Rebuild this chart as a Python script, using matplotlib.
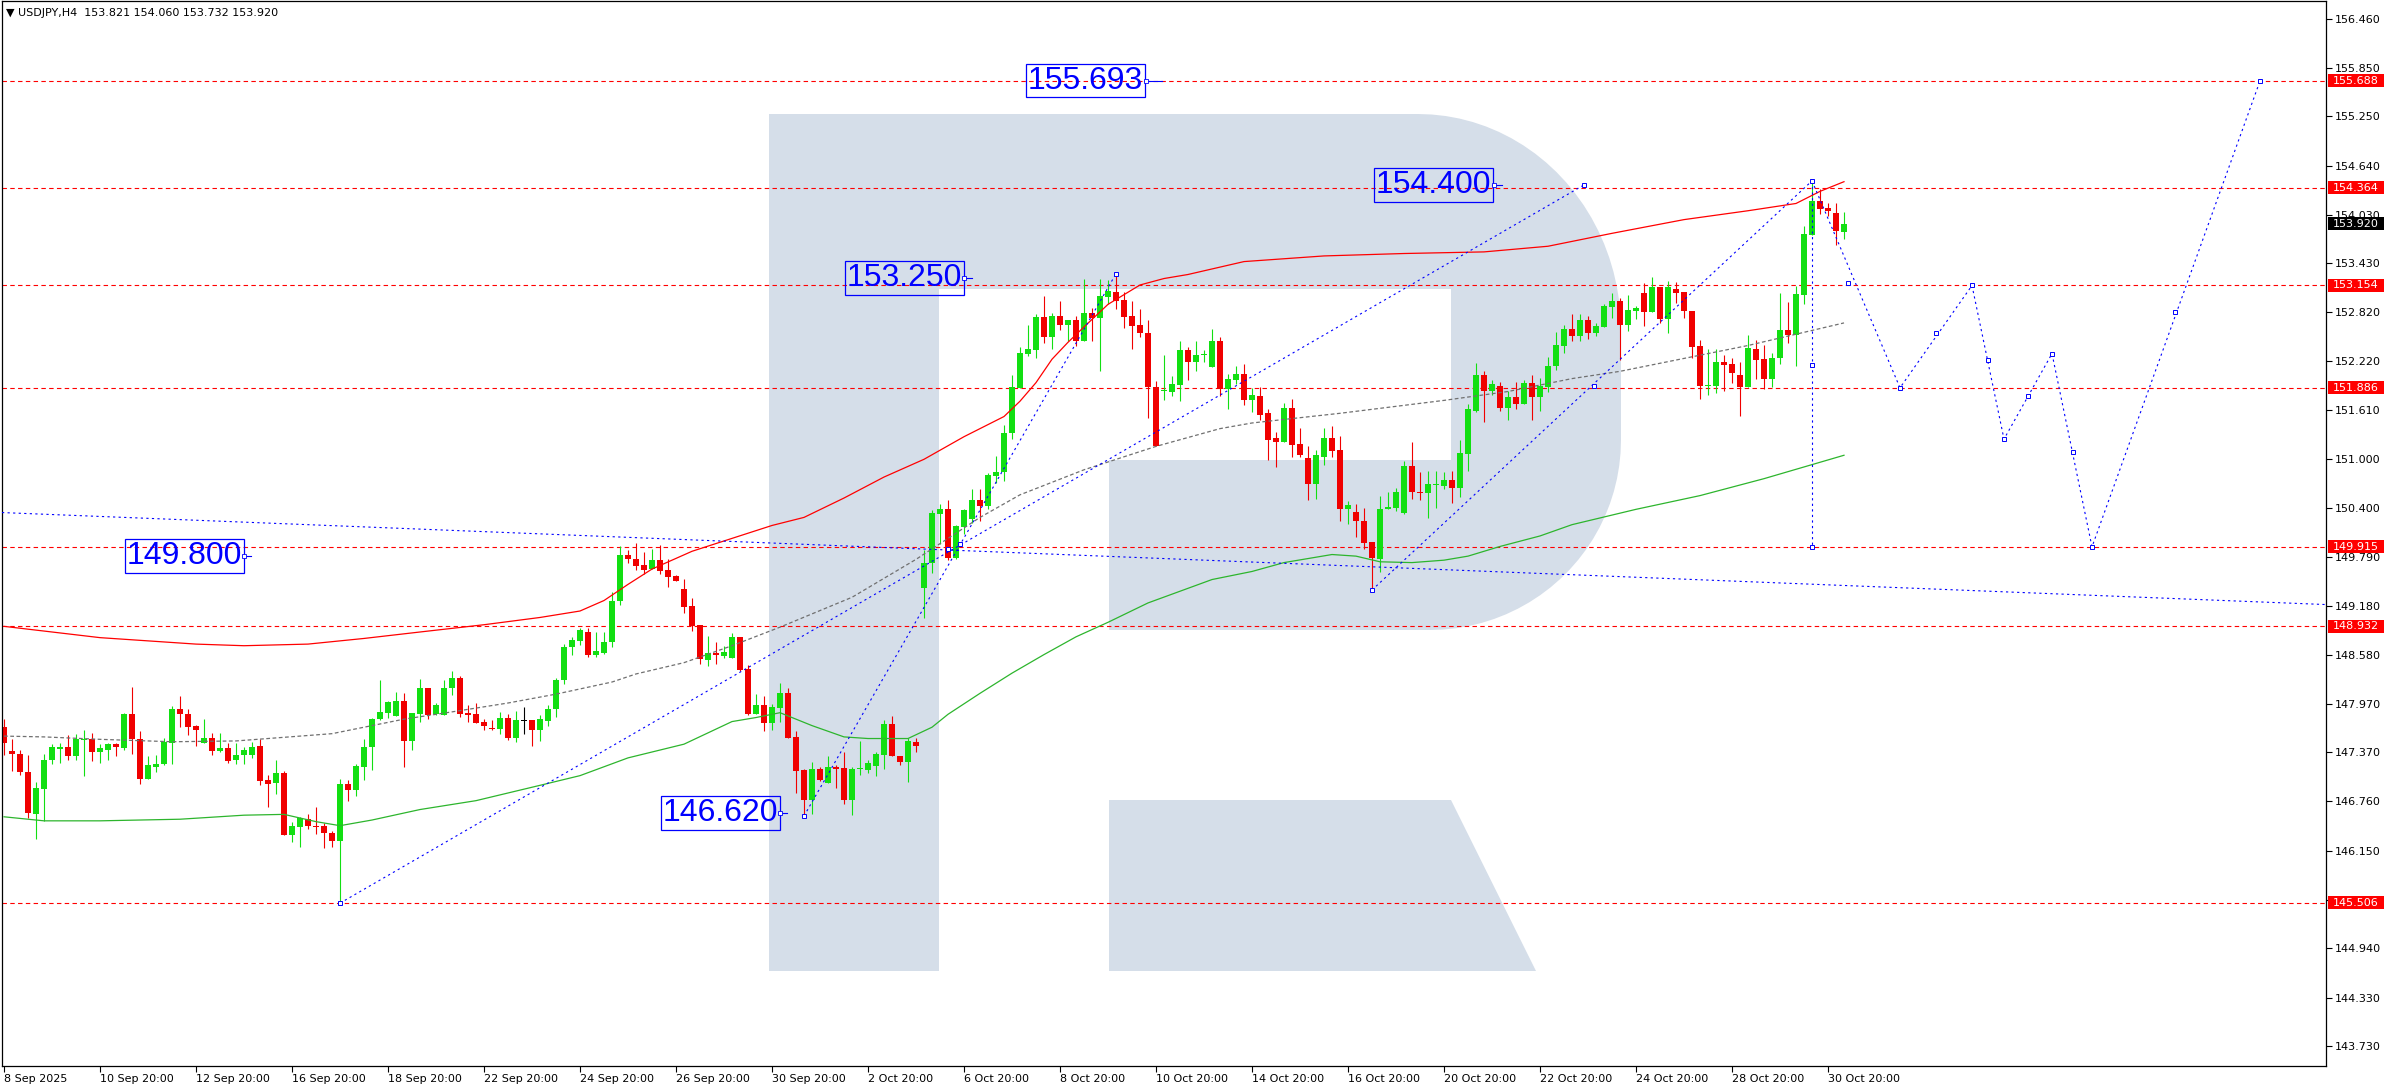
import numpy as np
import matplotlib
matplotlib.use("Agg")
import matplotlib.pyplot as plt
from matplotlib.patches import Polygon, Rectangle
from matplotlib.transforms import blended_transform_factory

plt.rcParams['font.family'] = ['DejaVu Sans']

# USDJPY H4 candles, bar 0 is the first bar on the left
opens = [
    147.68, 147.39, 147.35, 147.13, 146.61, 146.92, 147.27, 147.41, 147.43, 147.32,
    147.52, 147.54, 147.37, 147.40, 147.47, 147.42, 147.85, 147.53, 147.04, 147.19,
    147.22, 147.49, 147.90, 147.85, 147.69, 147.49, 147.55, 147.39, 147.42, 147.27,
    147.33, 147.33, 147.45, 147.02, 146.99, 147.11, 146.35, 146.44, 146.54, 146.46,
    146.45, 146.37, 146.27, 146.98, 146.90, 147.19, 147.43, 147.78, 147.86, 147.82,
    148.01, 147.51, 147.85, 148.16, 147.85, 147.83, 148.16, 148.29, 147.86, 147.85,
    147.75, 147.67, 147.66, 147.80, 147.55, 147.76, 147.77, 147.64, 147.76, 147.90,
    148.26, 148.67, 148.75, 148.86, 148.57, 148.60, 148.73, 149.25, 149.81, 149.76,
    149.69, 149.64, 149.75, 149.63, 149.55, 149.39, 149.18, 148.95, 148.51, 148.60,
    148.56, 148.54, 148.80, 148.40, 147.84, 147.95, 147.73, 147.92, 148.10, 147.56,
    147.15, 146.78, 147.16, 146.99, 147.19, 147.17, 146.78, 147.16, 147.15, 147.20,
    147.34, 147.72, 147.32, 147.25, 147.50, 149.41, 149.71, 150.32, 150.38, 149.78,
    150.16, 150.26, 150.50, 150.42, 150.79, 150.84, 151.32, 151.88, 152.31, 152.36,
    152.76, 152.51, 152.77, 152.66, 152.72, 152.47, 152.81, 152.75, 153.01, 153.07,
    152.97, 152.77, 152.66, 152.57, 151.90, 151.85, 151.84, 151.92, 152.35, 152.21,
    152.29, 152.14, 152.47, 151.87, 151.98, 152.06, 151.74, 151.79, 151.57, 151.26,
    151.22, 151.64, 151.19, 151.02, 150.70, 151.03, 151.26, 151.11, 150.39, 150.35,
    150.24, 149.97, 149.77, 150.38, 150.40, 150.34, 150.92, 150.60, 150.58, 150.68,
    150.67, 150.74, 150.65, 151.07, 151.60, 152.04, 151.85, 151.91, 151.63, 151.77,
    151.69, 151.94, 151.77, 151.90, 152.15, 152.41, 152.62, 152.53, 152.73, 152.57,
    152.64, 152.89, 152.96, 152.67, 152.84, 153.06, 152.83, 153.14, 152.74, 153.11,
    153.07, 152.84, 152.41, 151.91, 151.91, 152.20, 152.18, 152.05, 151.89, 152.37,
    152.24, 151.99, 152.25, 152.60, 152.54, 153.04, 153.78, 154.20, 154.12, 154.05,
    153.821,
]
highs = [
    147.78, 147.53, 147.40, 147.34, 147.00, 147.35, 147.47, 147.48, 147.58, 147.59,
    147.65, 147.61, 147.47, 147.48, 147.48, 147.86, 148.18, 147.63, 147.32, 147.34,
    147.55, 147.94, 148.07, 147.90, 147.71, 147.78, 147.61, 147.61, 147.48, 147.48,
    147.43, 147.50, 147.54, 147.09, 147.27, 147.14, 146.51, 146.57, 146.61, 146.69,
    146.49, 146.40, 147.04, 147.03, 147.23, 147.54, 147.80, 148.27, 148.01, 148.12,
    148.11, 147.86, 148.28, 148.16, 147.98, 148.27, 148.38, 148.31, 147.95, 147.98,
    147.78, 147.77, 147.87, 147.85, 147.88, 147.93, 147.77, 147.83, 147.96, 148.29,
    148.71, 148.80, 148.91, 148.91, 148.86, 148.86, 149.36, 149.93, 149.88, 149.96,
    149.85, 149.89, 149.94, 149.76, 149.57, 149.52, 149.28, 148.95, 148.81, 148.74,
    148.69, 148.85, 148.80, 148.45, 148.09, 148.07, 147.97, 148.23, 148.17, 147.63,
    147.16, 147.25, 147.19, 147.32, 147.21, 147.37, 147.19, 147.51, 147.27, 147.37,
    147.77, 147.82, 147.32, 147.55, 147.55, 149.87, 150.37, 150.44, 150.49, 150.19,
    150.39, 150.63, 150.63, 150.83, 151.04, 151.42, 152.05, 152.39, 152.66, 152.80,
    153.02, 152.81, 152.96, 152.73, 152.78, 153.23, 152.87, 153.24, 153.22, 153.30,
    153.07, 152.96, 152.86, 152.72, 151.97, 152.29, 152.03, 152.46, 152.39, 152.46,
    152.36, 152.62, 152.51, 152.06, 152.15, 152.18, 151.88, 151.89, 151.62, 151.34,
    151.70, 151.75, 151.39, 151.16, 151.12, 151.39, 151.41, 151.29, 150.48, 150.44,
    150.40, 149.98, 150.55, 150.60, 150.64, 150.98, 151.21, 150.84, 150.86, 150.86,
    150.84, 150.86, 151.24, 151.69, 152.19, 152.10, 151.98, 151.96, 151.85, 151.96,
    151.98, 152.05, 152.01, 152.27, 152.58, 152.66, 152.80, 152.80, 152.78, 152.69,
    152.92, 153.06, 153.00, 153.03, 152.90, 153.19, 153.26, 153.14, 153.21, 153.20,
    153.07, 152.84, 152.48, 152.37, 152.37, 152.29, 152.26, 152.20, 152.54, 152.48,
    152.42, 152.32, 153.06, 152.95, 153.15, 153.89, 154.46, 154.35, 154.18, 154.18,
    154.060,
]
lows = [
    147.33, 147.14, 147.09, 146.55, 146.30, 146.52, 147.23, 147.24, 147.27, 147.27,
    147.07, 147.26, 147.24, 147.28, 147.32, 147.40, 147.35, 146.98, 147.04, 147.12,
    147.21, 147.23, 147.68, 147.58, 147.45, 147.49, 147.33, 147.37, 147.24, 147.22,
    147.23, 147.30, 146.96, 146.69, 146.85, 146.34, 146.26, 146.20, 146.42, 146.36,
    146.18, 146.20, 145.50, 146.76, 146.83, 147.02, 147.15, 147.77, 147.80, 147.82,
    147.19, 147.40, 147.75, 147.78, 147.83, 147.83, 148.08, 147.81, 147.74, 147.73,
    147.65, 147.64, 147.59, 147.52, 147.50, 147.60, 147.45, 147.51, 147.70, 147.81,
    148.21, 148.58, 148.70, 148.55, 148.55, 148.59, 148.68, 149.20, 149.71, 149.63,
    149.58, 149.64, 149.58, 149.42, 149.49, 149.09, 148.87, 148.46, 148.44, 148.46,
    148.54, 148.54, 148.38, 147.83, 147.84, 147.63, 147.64, 147.74, 147.55, 146.86,
    146.55, 146.60, 147.01, 146.99, 146.93, 146.73, 146.59, 147.09, 147.11, 147.07,
    147.16, 147.32, 147.21, 147.00, 147.37, 149.03, 149.59, 149.95, 149.75, 149.76,
    150.08, 150.21, 150.24, 150.39, 150.71, 150.73, 151.25, 151.88, 152.28, 152.25,
    152.44, 152.37, 152.60, 152.46, 152.41, 152.47, 152.47, 152.10, 152.92, 152.86,
    152.63, 152.37, 152.52, 151.51, 151.16, 151.74, 151.79, 151.72, 151.98, 152.10,
    152.21, 152.14, 151.79, 151.62, 151.93, 151.67, 151.59, 151.49, 150.99, 150.90,
    151.22, 151.03, 151.03, 150.50, 150.51, 150.93, 151.03, 150.23, 150.20, 150.04,
    149.89, 149.40, 149.60, 150.38, 150.36, 150.32, 150.51, 150.49, 150.27, 150.40,
    150.63, 150.46, 150.53, 150.86, 151.59, 151.46, 151.80, 151.60, 151.49, 151.62,
    151.68, 151.49, 151.60, 151.83, 152.11, 152.32, 152.46, 152.47, 152.49, 152.53,
    152.64, 152.75, 152.23, 152.59, 152.74, 152.65, 152.82, 152.69, 152.57, 152.94,
    152.75, 152.26, 151.75, 151.80, 151.82, 151.85, 151.94, 151.54, 151.89, 152.00,
    151.87, 151.89, 152.18, 152.44, 152.15, 152.93, 153.78, 154.04, 154.02, 153.66,
    153.732,
]
closes = [
    147.49, 147.35, 147.12, 146.62, 146.93, 147.28, 147.43, 147.43, 147.32, 147.53,
    147.54, 147.37, 147.42, 147.47, 147.43, 147.85, 147.53, 147.04, 147.21, 147.23,
    147.50, 147.90, 147.84, 147.68, 147.65, 147.55, 147.39, 147.42, 147.26, 147.34,
    147.40, 147.44, 147.01, 146.98, 147.11, 146.35, 146.45, 146.55, 146.45, 146.44,
    146.37, 146.27, 146.98, 146.90, 147.20, 147.44, 147.78, 147.87, 147.99, 148.01,
    147.51, 147.86, 148.16, 147.83, 147.96, 148.17, 148.29, 147.85, 147.83, 147.73,
    147.69, 147.66, 147.80, 147.55, 147.77, 147.76, 147.65, 147.78, 147.91, 148.27,
    148.68, 148.76, 148.88, 148.57, 148.62, 148.74, 149.25, 149.81, 149.76, 149.68,
    149.63, 149.75, 149.62, 149.54, 149.49, 149.17, 148.93, 148.52, 148.60, 148.57,
    148.61, 148.80, 148.39, 147.84, 147.95, 147.73, 147.93, 148.10, 147.55, 147.14,
    146.78, 147.16, 147.02, 147.19, 147.16, 146.78, 147.16, 147.17, 147.24, 147.35,
    147.72, 147.32, 147.25, 147.51, 147.45, 149.72, 150.33, 150.38, 149.78, 150.17,
    150.37, 150.50, 150.42, 150.80, 150.84, 151.33, 151.89, 152.32, 152.37, 152.76,
    152.51, 152.77, 152.66, 152.72, 152.47, 152.81, 152.75, 153.02, 153.08, 152.96,
    152.76, 152.65, 152.56, 151.89, 151.16, 151.86, 151.93, 152.35, 152.21, 152.29,
    152.31, 152.47, 151.87, 151.99, 152.06, 151.74, 151.80, 151.55, 151.24, 151.22,
    151.64, 151.18, 151.05, 150.70, 151.05, 151.26, 151.10, 150.39, 150.43, 150.23,
    149.96, 149.78, 150.39, 150.41, 150.59, 150.92, 150.60, 150.58, 150.69, 150.69,
    150.74, 150.65, 151.08, 151.62, 152.04, 151.85, 151.93, 151.63, 151.77, 151.69,
    151.94, 151.77, 151.91, 152.16, 152.42, 152.62, 152.53, 152.73, 152.57, 152.65,
    152.90, 152.96, 152.67, 152.85, 152.88, 152.83, 153.14, 152.74, 153.13, 153.06,
    152.84, 152.39, 151.91, 151.92, 152.21, 152.17, 152.07, 151.89, 152.38, 152.23,
    151.99, 152.26, 152.60, 152.54, 153.05, 153.79, 154.20, 154.10, 154.08, 153.83,
    153.920,
]

# moving averages (bar, price)
ma_red_bars = [0, 12, 24, 30, 38, 45, 52, 60, 67, 72, 75, 78, 81, 86, 91, 96, 100,
               105, 110, 115, 120, 125, 127, 129, 131, 133, 135, 138, 142, 145, 148,
               155, 165, 175, 185, 193, 201, 210, 218, 224, 227, 230]
ma_red_vals = [148.93, 148.79, 148.71, 148.69, 148.71, 148.78, 148.86, 148.95, 149.04,
               149.12, 149.25, 149.45, 149.64, 149.86, 150.02, 150.18, 150.28, 150.52,
               150.78, 151.00, 151.28, 151.53, 151.72, 151.95, 152.24, 152.45, 152.64,
               152.92, 153.16, 153.24, 153.29, 153.45, 153.52, 153.55, 153.57, 153.64,
               153.80, 153.97, 154.08, 154.17, 154.32, 154.44]

ma_green_bars = [0, 5, 12, 22, 30, 35, 39, 42, 46, 52, 59, 67, 72, 78, 85, 91, 94,
                 97, 101, 105, 108, 113, 116, 118, 122, 126, 130, 134, 138, 143, 151,
                 156, 160, 166, 169, 172, 176, 180, 183, 187, 192, 196, 204, 212, 220, 230]
ma_green_vals = [146.57, 146.52, 146.52, 146.54, 146.59, 146.60, 146.51, 146.46, 146.53,
                 146.66, 146.77, 146.96, 147.08, 147.30, 147.47, 147.75, 147.80, 147.86,
                 147.70, 147.56, 147.54, 147.54, 147.68, 147.84, 148.10, 148.35, 148.58,
                 148.80, 148.98, 149.22, 149.51, 149.61, 149.72, 149.82, 149.80, 149.73,
                 149.72, 149.75, 149.80, 149.92, 150.05, 150.19, 150.38, 150.55, 150.76,
                 151.05]

ma_gray_bars = [0, 5, 12, 21, 29, 37, 41, 44, 50, 56, 63, 69, 76, 79, 85, 91, 97, 106,
                114, 118, 122, 127, 135, 144, 152, 156, 167, 180, 188, 196, 202, 210,
                218, 227, 230]
ma_gray_vals = [147.57, 147.56, 147.53, 147.50, 147.51, 147.57, 147.60, 147.66, 147.78,
                147.87, 147.98, 148.09, 148.24, 148.34, 148.48, 148.69, 148.92, 149.29,
                149.76, 150.02, 150.28, 150.56, 150.87, 151.16, 151.38, 151.45, 151.57,
                151.73, 151.84, 152.00, 152.09, 152.25, 152.41, 152.62, 152.69]

# horizontal levels (red dashed) and the current price
level_prices = [155.688, 154.364, 153.154, 151.886, 149.915, 148.932, 145.506]
last_price = 153.920

# blue dotted trend lines: (bar0, price0, bar1, price1)
trend_lines = [
    (42, 145.50, 197.5, 154.40),
    (100, 146.58, 139, 153.30),
    (171, 149.38, 226, 154.45),
    (226, 154.45, 226, 149.915),
    (-0.25, 150.34, 290.25, 149.20),
]
# forecast path
forecast_bars = [226, 237, 246, 250, 256, 261, 282]
forecast_prices = [154.45, 151.886, 153.154, 151.25, 152.31, 149.915, 155.688]
# small object markers
marker_bars = [42, 197.5, 118, 100, 139, 119.5, 171, 226, 198.7, 226, 226,
               230.5, 241.5, 248, 253, 258.6, 271.4, 237, 246, 250, 256, 261, 282]
marker_prices = [145.50, 154.40, 149.89, 146.58, 153.30, 149.95, 149.38, 154.45, 151.91,
                 152.17, 149.915, 153.18, 152.56, 152.23, 151.78, 151.09, 152.83,
                 151.886, 153.154, 151.25, 152.31, 149.915, 155.688]

# price labels: text, right edge of box (bar), price, connector end (bar)
label_texts = ["155.693", "154.400", "153.250", "149.800", "146.620"]
label_box_right = [142.4, 185.9, 119.75, 29.75, 96.75]
label_prices = [155.693, 154.400, 153.250, 149.800, 146.620]
label_anchor = [144.75, 187.25, 121.0, 30.9, 97.9]

ytick_labels = ["156.460", "155.850", "155.250", "154.640", "154.030", "153.430",
                "152.820", "152.220", "151.610", "151.000", "150.400", "149.790",
                "149.180", "148.580", "147.970", "147.370", "146.760", "146.150",
                "145.540", "144.940", "144.330", "143.730"]
xtick_bars = list(range(0, 229, 12))
xtick_labels = ["8 Sep 2025", "10 Sep 20:00", "12 Sep 20:00", "16 Sep 20:00",
                "18 Sep 20:00", "22 Sep 20:00", "24 Sep 20:00", "26 Sep 20:00",
                "30 Sep 20:00", "2 Oct 20:00", "6 Oct 20:00", "8 Oct 20:00",
                "10 Oct 20:00", "14 Oct 20:00", "16 Oct 20:00", "20 Oct 20:00",
                "22 Oct 20:00", "24 Oct 20:00", "28 Oct 20:00", "30 Oct 20:00"]

UP = '#12df12'
DOWN = '#f00000'
BLUE = '#0000ff'
W, H = 2390, 1090

fig = plt.figure(figsize=(W / 100, H / 100), dpi=100)
ax = fig.add_axes([2 / W, 24 / H, 2324 / W, 1065 / H])
ax.set_xlim(-0.25, 290.25)
ax.set_ylim(143.482, 156.679)


def px_to_axes(x, y):
    # watermark is placed in screen pixels of the plot area
    return (x - 2) / 2324, (1066 - y) / 1065


# "R" watermark
outline = [(769, 971), (769, 114), (1418, 114)]
for a in np.linspace(np.pi / 2, 0, 24):
    outline.append((1418 + 203 * np.cos(a), 330 - 216 * np.sin(a)))
for a in np.linspace(0, -np.pi / 2, 24):
    outline.append((1430 + 191 * np.cos(a), 440 - 190 * np.sin(a)))
outline += [(1109, 630), (1109, 460), (1451, 460), (1451, 289), (939, 289), (939, 971)]
leg = [(1109, 800), (1451, 800), (1536, 971), (1109, 971)]
for shape in (outline, leg):
    ax.add_patch(Polygon([px_to_axes(x, y) for x, y in shape], closed=True,
                         transform=ax.transAxes, fc='#d5dee9', ec='none', zorder=0.5))

# levels
for p in level_prices:
    ax.axhline(p, color='#ff0000', lw=0.8, ls=(0, (4, 3)), zorder=1.5)

# candles
o = np.array(opens)
h = np.array(highs)
l = np.array(lows)
c = np.array(closes)
x = np.arange(len(o))
cols = np.where(c > o, UP, np.where(c < o, DOWN, '#000000'))
ax.vlines(x, l, h, colors=cols, lw=0.8, zorder=2)
body_lo = np.minimum(o, c)
body_h = np.maximum(np.abs(c - o), 0.014)
ax.bar(x, body_h, bottom=body_lo, width=0.64, color=cols, linewidth=0, zorder=2.1)

# moving averages
ax.plot(ma_red_bars, ma_red_vals, color='#ff0000', lw=0.9, zorder=3)
ax.plot(ma_green_bars, ma_green_vals, color='#2db52d', lw=0.9, zorder=3)
ax.plot(ma_gray_bars, ma_gray_vals, color='#707070', lw=0.9, ls=(0, (3, 2)), zorder=3)

# blue objects
for b0, p0, b1, p1 in trend_lines:
    ax.plot([b0, b1], [p0, p1], color=BLUE, lw=0.8, ls=(0, (2, 3)), zorder=4,
            clip_on=False)
ax.plot(forecast_bars, forecast_prices, color=BLUE, lw=0.8, ls=(0, (2, 3)), zorder=4)
ax.plot(marker_bars, marker_prices, ls='none', marker='s', ms=3, mfc='white',
        mec=BLUE, mew=0.7, zorder=4.5)

# boxed price labels
for txt, xr, p, xa in zip(label_texts, label_box_right, label_prices, label_anchor):
    ax.text(xr, p, txt, ha='right', va='center', fontsize=23, color=BLUE,
            family='Liberation Sans', zorder=5,
            bbox=dict(boxstyle='square,pad=0.06', fc='none', ec=BLUE, lw=0.9))
    ax.plot([xr + 0.15, xa], [p, p], color=BLUE, lw=0.8, zorder=5)
    ax.plot([xr + 0.3], [p], ls='none', marker='s', ms=2.5, mfc='white', mec=BLUE,
            mew=0.6, zorder=5)

# axes cosmetics
for s in ax.spines.values():
    s.set_color('black')
    s.set_linewidth(0.9)
ax.yaxis.tick_right()
ax.set_yticks([float(t) for t in ytick_labels])
ax.set_yticklabels(ytick_labels)
ax.set_xticks(xtick_bars)
ax.set_xticklabels(xtick_labels, ha='left')
ax.tick_params(axis='y', length=4, width=0.8, pad=2, labelsize=8, colors='black')
ax.tick_params(axis='x', length=4, width=0.8, pad=2, labelsize=8, colors='black')

# price tags in the right margin
tr = blended_transform_factory(ax.transAxes, ax.transData)
tag_h = 13 / 80.7
tag_x0 = 1.0009
tag_w = 0.0241
for p, fc in [(v, '#ff0000') for v in level_prices] + [(last_price, '#000000')]:
    ax.add_patch(Rectangle((tag_x0, p - tag_h / 2), tag_w, tag_h, transform=tr,
                           fc=fc, ec='none', clip_on=False, zorder=6))
    ax.text(tag_x0 + tag_w / 2, p, f"{p:.3f}", transform=tr, ha='center',
            va='center', fontsize=8, color='white', zorder=7, clip_on=False)

fig.text(6 / W, 1 - 13 / H, "▼ USDJPY,H4  153.821 154.060 153.732 153.920",
         fontsize=8, va='center', ha='left', color='black')

fig.savefig("out.png", dpi=100, facecolor='white')
